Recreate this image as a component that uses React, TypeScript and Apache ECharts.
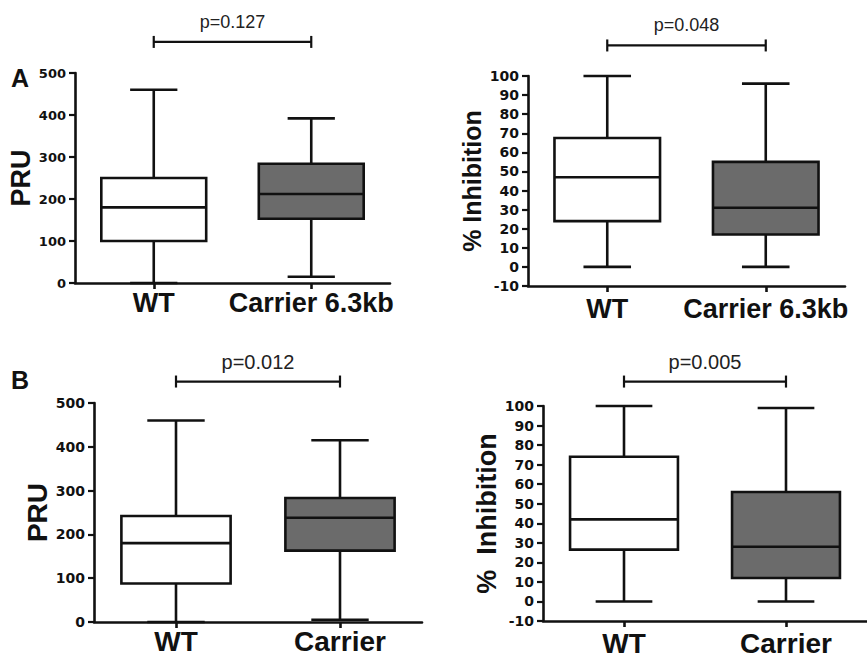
import React, { useEffect, useRef } from "react";
import * as echarts from "echarts";

// ---- data ----
const categoriesA = ["WT", "Carrier 6.3kb"];
const categoriesB = ["WT", "Carrier"];
// [category index, min, Q1, median, Q3, max]
const pruA = [
  [0, 0, 100, 180, 250, 460],
  [1, 15, 153, 212, 284, 392],
];
const inhibitionA = [
  [0, 0, 24, 47, 67.5, 100],
  [1, 0, 17, 31, 55, 96],
];
const pruB = [
  [0, 0, 88, 180, 242, 460],
  [1, 5, 163, 238, 283, 415],
];
const inhibitionB = [
  [0, 0, 26.5, 42, 74, 100],
  [1, 0, 12, 28, 56, 99],
];
const pValues = ["p=0.127", "p=0.048", "p=0.012", "p=0.005"];
// bracket: [from category, to category, level in data units]
const bracketLevels = [574, 116, 549, 112.5];
const panelLetters = ["A", "B"];

const FONT = '"Liberation Sans", Arial, Helvetica, sans-serif';
const WIDE = '"DejaVu Sans", "Liberation Sans", sans-serif';
const INK = "#111111";
const FILLS = ["#ffffff", "#6b6b6b"];

function makeBoxRenderer(capRatio: number) {
  return (params: any, api: any) => {
    const cat = api.value(0);
    const mn = api.value(1);
    const q1 = api.value(2);
    const md = api.value(3);
    const q3 = api.value(4);
    const mx = api.value(5);
    const band = api.size([1, 0])[0];
    const hw = band * 0.333;
    const cw = (band * capRatio) / 2;
    const pMin = api.coord([cat, mn]);
    const pQ1 = api.coord([cat, q1]);
    const pMd = api.coord([cat, md]);
    const pQ3 = api.coord([cat, q3]);
    const pMax = api.coord([cat, mx]);
    const x = pMin[0];
    const ls = { stroke: INK, lineWidth: 2.6, fill: null };
    return {
      type: "group",
      children: [
        { type: "line", shape: { x1: x, y1: pMax[1], x2: x, y2: pQ3[1] }, style: ls },
        { type: "line", shape: { x1: x, y1: pQ1[1], x2: x, y2: pMin[1] }, style: ls },
        { type: "line", shape: { x1: x - cw, y1: pMax[1], x2: x + cw, y2: pMax[1] }, style: ls },
        { type: "line", shape: { x1: x - cw, y1: pMin[1], x2: x + cw, y2: pMin[1] }, style: ls },
        {
          type: "rect",
          shape: { x: x - hw, y: pQ3[1], width: hw * 2, height: pQ1[1] - pQ3[1] },
          style: { fill: FILLS[cat], stroke: INK, lineWidth: 2.6 },
        },
        { type: "line", shape: { x1: x - hw, y1: pMd[1], x2: x + hw, y2: pMd[1] }, style: ls },
      ],
    };
  };
}

function makeBracketRenderer(label: string, fontSize: number) {
  return (params: any, api: any) => {
    const a = api.coord([api.value(0), api.value(2)]);
    const b = api.coord([api.value(1), api.value(2)]);
    const ls = { stroke: INK, lineWidth: 2.2, fill: null };
    return {
      type: "group",
      children: [
        { type: "line", shape: { x1: a[0], y1: a[1], x2: b[0], y2: b[1] }, style: ls },
        { type: "line", shape: { x1: a[0], y1: a[1] - 6, x2: a[0], y2: a[1] + 6 }, style: ls },
        { type: "line", shape: { x1: b[0], y1: b[1] - 6, x2: b[0], y2: b[1] + 6 }, style: ls },
        {
          type: "text",
          style: {
            text: label,
            x: (a[0] + b[0]) / 2,
            y: a[1] - 20,
            align: "center",
            verticalAlign: "middle",
            fontSize,
            fontFamily: FONT,
            fill: "#222",
          },
        },
      ],
    };
  };
}

export default function App() {
  const ref = useRef<HTMLDivElement>(null);

  useEffect(() => {
    if (!ref.current) return;
    const chart = echarts.init(ref.current, null, { renderer: "svg" });

    const grids = [
      { left: 75, top: 73, width: 315, height: 210 },
      { left: 528, top: 76, width: 317, height: 210 },
      { left: 94, top: 403, width: 328, height: 219 },
      { left: 543, top: 406, width: 324, height: 217 },
    ];
    const panels = [
      { cats: categoriesA, data: pruA, name: "PRU", min: 0, max: 500, interval: 100, nameSize: 27, nameGap: 40, xSize: 27, xMargin: 6, tickSize: 13, cap: 0.3, pSize: 18 },
      { cats: categoriesA, data: inhibitionA, name: "% Inhibition", min: -10, max: 100, interval: 10, nameSize: 25, nameGap: 44, xSize: 27, xMargin: 9, tickSize: 14, cap: 0.3, pSize: 18 },
      { cats: categoriesB, data: pruB, name: "PRU", min: 0, max: 500, interval: 100, nameSize: 28, nameGap: 40, xSize: 28, xMargin: 5, tickSize: 14, cap: 0.35, pSize: 20 },
      { cats: categoriesB, data: inhibitionB, name: "%  Inhibition", min: -10, max: 100, interval: 10, nameSize: 27, nameGap: 40, xSize: 28, xMargin: 8, tickSize: 14, cap: 0.35, pSize: 20 },
    ];

    const axisLine = { show: true, onZero: false, lineStyle: { color: INK, width: 2.6 } };

    const option: any = {
      animation: false,
      backgroundColor: "#ffffff",
      grid: grids,
      xAxis: panels.map((p, i) => ({
        type: "category",
        gridIndex: i,
        data: p.cats,
        boundaryGap: true,
        axisLine,
        axisTick: { show: true, alignWithLabel: true, length: 6, inside: false, lineStyle: { color: INK, width: 2.6 } },
        axisLabel: { interval: 0, hideOverlap: false, color: INK, fontWeight: "bold", fontSize: p.xSize, fontFamily: FONT, margin: p.xMargin },
        splitLine: { show: false },
      })),
      yAxis: panels.map((p, i) => ({
        type: "value",
        gridIndex: i,
        min: p.min,
        max: p.max,
        interval: p.interval,
        name: p.name,
        nameLocation: "middle",
        nameRotate: 90,
        nameGap: p.nameGap,
        nameTextStyle: { color: INK, fontWeight: "bold", fontSize: p.nameSize, fontFamily: FONT },
        axisLine,
        axisTick: { show: true, length: 6, inside: false, lineStyle: { color: INK, width: 2.2 } },
        axisLabel: { color: INK, fontWeight: "bold", fontSize: p.tickSize, fontFamily: WIDE, margin: 9 },
        splitLine: { show: false },
      })),
      series: [
        ...panels.map((p, i) => ({
          type: "custom",
          xAxisIndex: i,
          yAxisIndex: i,
          clip: false,
          renderItem: makeBoxRenderer(p.cap),
          encode: { x: 0, y: [1, 2, 3, 4, 5] },
          data: p.data,
          z: 3,
        })),
        ...panels.map((p, i) => ({
          type: "custom",
          xAxisIndex: i,
          yAxisIndex: i,
          clip: false,
          renderItem: makeBracketRenderer(pValues[i], p.pSize),
          encode: { x: [0, 1], y: 2 },
          data: [[0, 1, bracketLevels[i]]],
          z: 4,
        })),
      ],
      graphic: [
        { type: "text", left: 11, top: 65, style: { text: panelLetters[0], fontSize: 25, fontWeight: "bold", fontFamily: FONT, fill: INK } },
        { type: "text", left: 11, top: 367, style: { text: panelLetters[1], fontSize: 25, fontWeight: "bold", fontFamily: FONT, fill: INK } },
      ],
    };

    chart.setOption(option);
    return () => chart.dispose();
  }, []);

  return (
    <div
      ref={ref}
      style={{ position: "fixed", left: 0, top: 0, width: 867, height: 657, background: "#fff" }}
    />
  );
}
